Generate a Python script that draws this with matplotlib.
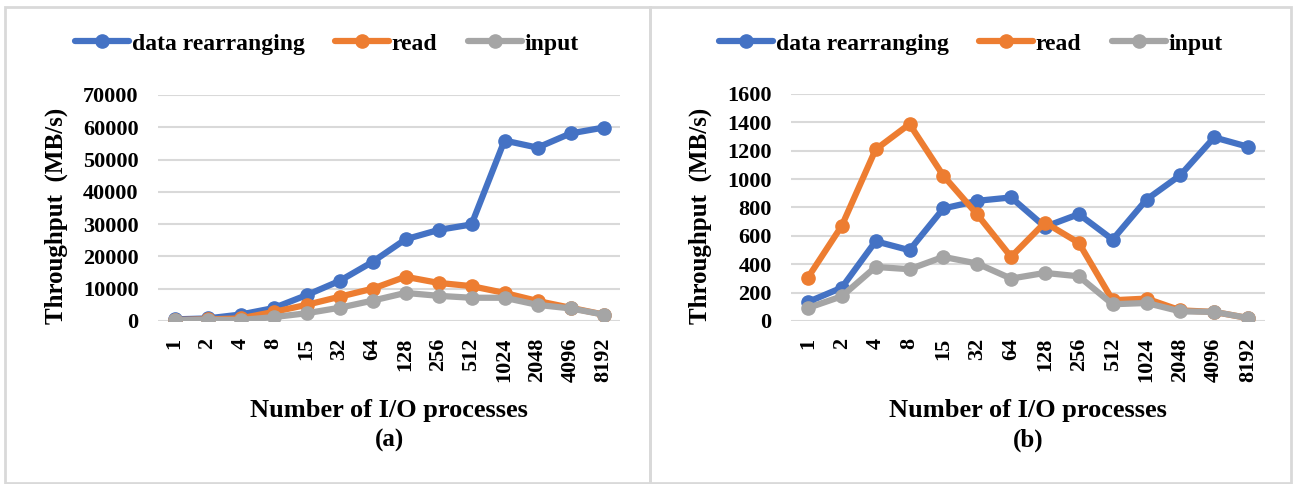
import matplotlib.pyplot as plt
from matplotlib.patches import Rectangle

# number of I/O processes (category axis)
procs = ['1', '2', '4', '8', '15', '32', '64', '128', '256', '512',
         '1024', '2048', '4096', '8192']

# (a) throughput, MB/s
a_rearrange = [500, 800, 2000, 4000, 8000, 12400, 18300, 25300, 28200, 29900,
               55900, 53700, 58100, 59900]
a_read = [300, 500, 800, 2800, 5000, 7500, 10000, 13700, 11800, 10800,
          8700, 6200, 4100, 2000]
a_input = [200, 400, 300, 1200, 2400, 4100, 6300, 8700, 7800, 7200,
           7200, 5000, 3900, 2000]

# (b) throughput, MB/s
b_rearrange = [134, 235, 562, 499, 793, 847, 871, 664, 753, 574,
               856, 1028, 1294, 1228]
b_read = [306, 671, 1209, 1388, 1024, 751, 452, 694, 551, 146,
          158, 75, 64, 21]
b_input = [92, 174, 381, 365, 452, 405, 299, 339, 315, 118,
           127, 68, 64, 21]

series_names = ['data rearranging', 'read', 'input']
colors = ['#4472C4', '#ED7D31', '#A5A5A5']

plt.rcParams['font.family'] = ['Liberation Serif', 'DejaVu Serif']
plt.rcParams['font.weight'] = 'bold'

W, H = 1293, 484
fig = plt.figure(figsize=(W / 100, H / 100), dpi=100)
fig.patch.set_facecolor('white')


def px_axes(x0, y0, x1, y1):
    # axes from pixel box (top-left origin)
    return fig.add_axes([x0 / W, 1 - y1 / H, (x1 - x0) / W, (y1 - y0) / H])


def draw_panel(ax, data, ymax, ystep):
    xs = range(len(procs))
    for vals, name, c in zip(data, series_names, colors):
        ax.plot(xs, vals, color=c, lw=4.5, marker='o', ms=9.5,
                label=name, solid_capstyle='round')
    ax.set_xlim(-0.5, len(procs) - 0.5)
    ax.set_ylim(0, ymax)
    ax.set_yticks(range(0, ymax + 1, ystep))
    ax.set_xticks(list(xs))
    ax.set_xticklabels(procs, rotation=90)
    ax.tick_params(axis='both', length=0, labelsize=16)
    ax.tick_params(axis='x', pad=12)
    ax.tick_params(axis='y', pad=14)
    for lab in ax.get_xticklabels() + ax.get_yticklabels():
        lab.set_fontweight('bold')
    ax.grid(axis='y', color='#D9D9D9', lw=1.5)
    ax.set_axisbelow(True)
    for s in ax.spines.values():
        s.set_visible(False)


axa = px_axes(158, 95, 620, 321)
draw_panel(axa, [a_rearrange, a_read, a_input], 70000, 10000)
axb = px_axes(791, 94, 1265, 321)
draw_panel(axb, [b_rearrange, b_read, b_input], 1600, 200)

# panel frames
for x0, x1 in [(5, 650), (650, 1291)]:
    fig.patches.append(Rectangle((x0 / W, 1 / H), (x1 - x0) / W, (H - 8) / H,
                                 transform=fig.transFigure, fill=False,
                                 ec='#D9D9D9', lw=2))

for ax, cx, ylx, tag in [(axa, 327, 56, '(a)'), (axb, 971, 700, '(b)')]:
    handles, labels = ax.get_legend_handles_labels()
    fig.legend(handles, labels, loc='center', ncol=3,
               bbox_to_anchor=(cx / W, 1 - 44 / H), frameon=False,
               prop={'size': 17, 'weight': 'bold'}, handlelength=2.3,
               handletextpad=0.1, columnspacing=1.3, markerscale=1.0)
    fig.text(ylx / W, 1 - 216 / H, 'Throughput  (MB/s)', rotation=90,
             ha='center', va='center', fontsize=18, fontweight='bold')
    mid = (ax.get_position().x0 + ax.get_position().x1) / 2
    fig.text(mid, 1 - 410 / H, 'Number of I/O processes', ha='center',
             va='center', fontsize=19, fontweight='bold')
    fig.text(mid, 1 - 440 / H, tag, ha='center', va='center',
             fontsize=18, fontweight='bold')

fig.savefig('out.png', dpi=100)
